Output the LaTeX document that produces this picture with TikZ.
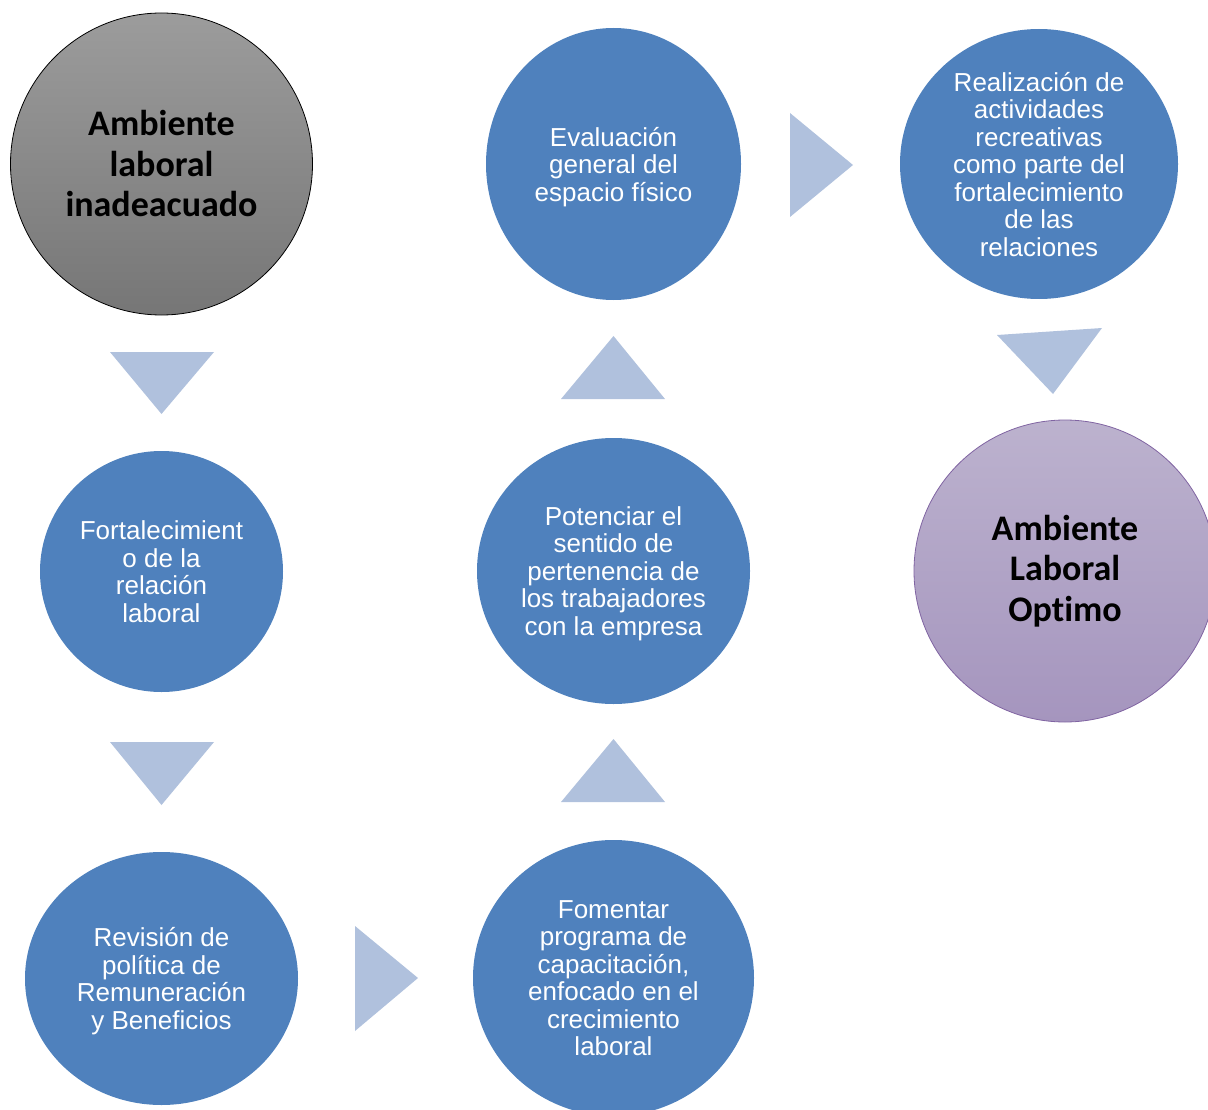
\documentclass[tikz,border=0pt]{standalone}
\usepackage{fontspec}
\usetikzlibrary{shapes.geometric}
\newfontfamily\arialf{Liberation Sans}
\newfontfamily\calf{Carlito}[Ligatures={NoCommon,NoContextual}]
\definecolor{blueA}{RGB}{79,129,189}
\definecolor{triC}{RGB}{176,193,221}
\definecolor{purpB}{RGB}{128,100,162}
\tikzset{
  bub/.style={ellipse, inner sep=0pt, fill=blueA, text=white, align=center,
    text depth=0pt, font=\arialf\fontsize{26}{27.5}\selectfont},
  bigbub/.style={ellipse, inner sep=0pt, align=center, text=black,
    font=\calf\bfseries\fontsize{36}{40.5}\selectfont},
  tri/.style={fill=triC, draw=none}
}
\begin{document}
\begin{tikzpicture}[x=1pt,y=-1pt]
\useasboundingbox (0,0) rectangle (1208,1110);
\clip (0,0) rectangle (1208,1110);
% nodes
\node[bigbub, minimum width=302, minimum height=302, top color={rgb,255:red,156;green,156;blue,156}, bottom color={rgb,255:red,118;green,118;blue,118}, draw=black, line width=0.8pt] (start) at (161.5,164) {Ambiente\\laboral\\inadeacuado};
\node[bub, minimum width=243, minimum height=241] (fort) at (161.5,571.5) {Fortalecimient\\o de la\\relación\\laboral};
\node[bub, minimum width=273, minimum height=253] (rev) at (161.5,978.5) {Revisión de\\política de\\Remuneración\\y Beneficios};
\node[bub, minimum width=281, minimum height=276] (fom) at (613.5,978) {Fomentar\\programa de\\capacitación,\\enfocado en el\\crecimiento\\laboral};
\node[bub, minimum width=273, minimum height=266] (pot) at (613.5,571) {Potenciar el\\sentido de\\pertenencia de\\los trabajadores\\con la empresa};
\node[bub, minimum width=255, minimum height=272] (eva) at (613.5,164) {Evaluación\\general del\\espacio físico};
\node[bub, minimum width=278, minimum height=270] (rea) at (1039,164) {Realización de\\actividades\\recreativas\\como parte del\\fortalecimiento\\de las\\relaciones};
\node[bigbub, minimum width=302, minimum height=302, top color={rgb,255:red,188;green,178;blue,206}, bottom color={rgb,255:red,165;green,149;blue,190}, draw=purpB, line width=0.8pt] (opt) at (1065,571) {Ambiente\\Laboral\\Opt\kern0pt{}imo};
% triangle arrows
\fill[tri] (110,352) -- (214,352) -- (161.5,414) -- cycle;
\fill[tri] (110,742) -- (214,742) -- (161.5,805) -- cycle;
\fill[tri] (355,926) -- (355,1031) -- (418,978) -- cycle;
\fill[tri] (561,802) -- (665,802) -- (613.5,739) -- cycle;
\fill[tri] (561,399) -- (665,399) -- (613.5,336) -- cycle;
\fill[tri] (790,113) -- (790,217) -- (853,165) -- cycle;
\fill[tri] (997,335) -- (1102,328) -- (1053,394) -- cycle;
\end{tikzpicture}
\end{document}
